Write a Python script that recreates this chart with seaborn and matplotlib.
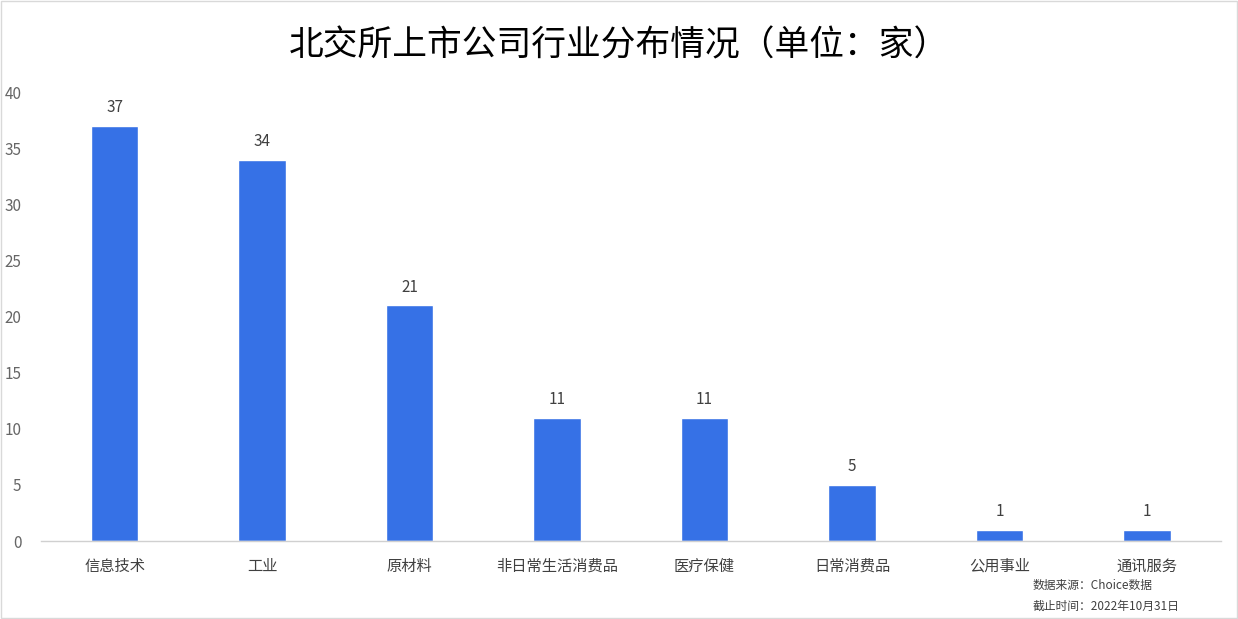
import matplotlib
matplotlib.use("Agg")
import pandas as pd
import matplotlib.pyplot as plt
import seaborn as sns

sns.set_theme(style="white")
plt.rcParams["font.family"] = ["Noto Sans CJK SC", "DejaVu Sans"]

industries = ["信息技术", "工业", "原材料", "非日常生活消费品", "医疗保健", "日常消费品", "公用事业", "通讯服务"]
counts = [37, 34, 21, 11, 11, 5, 1, 1]
yticks = [0, 5, 10, 15, 20, 25, 30, 35, 40]

df = pd.DataFrame({"行业": industries, "数量": counts})

fig = plt.figure(figsize=(12.38, 6.19), dpi=100)
ax = fig.add_axes([0.033, 0.126, 0.953, 0.725])

sns.barplot(data=df, x="行业", y="数量", color="#3671E6", width=0.32,
            saturation=1, ax=ax)

for i, v in enumerate(counts):
    ax.text(i, v + 0.85, str(v), ha="center", va="bottom", fontsize=11, color="#404040")

ax.set_ylim(0, 40)
ax.set_yticks(yticks)
ax.set_yticklabels([str(t) for t in yticks], fontsize=11, color="#666666")
ax.tick_params(axis="x", labelsize=11, labelcolor="#404040", length=0, pad=12)
ax.tick_params(axis="y", length=0, pad=14)
ax.set_xlabel("")
ax.set_ylabel("")
for s in ["top", "right", "left"]:
    ax.spines[s].set_visible(False)
ax.spines["bottom"].set_color("#d0d0d0")
ax.spines["bottom"].set_linewidth(1)

fig.text(0.5, 0.925, "北交所上市公司行业分布情况（单位：家）", ha="center", va="center",
         fontsize=25, color="#000000")
fig.text(0.834, 0.054, "数据来源：Choice数据", ha="left", va="center", fontsize=8.5, color="#404040")
fig.text(0.834, 0.02, "截止时间：2022年10月31日", ha="left", va="center", fontsize=8.5, color="#404040")

fig.patches.append(plt.Rectangle((0.001, 0.001), 0.998, 0.998, transform=fig.transFigure,
                                 fill=False, edgecolor="#d9d9d9", linewidth=1))

fig.savefig("out.png", dpi=100)
